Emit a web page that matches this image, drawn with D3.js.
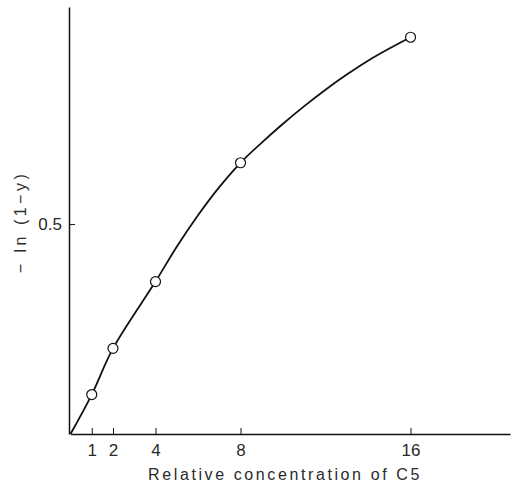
<!DOCTYPE html>
<html>
<head>
<meta charset="utf-8">
<script src="https://cdn.jsdelivr.net/npm/d3@7"></script>
<style>
  html, body { margin: 0; padding: 0; background: #fff; }
  svg { display: block; }
  text { font-family: "Liberation Sans", Arial, sans-serif; fill: #2a2a2a; }
</style>
</head>
<body>
<svg id="chart" width="513" height="488"></svg>
<script>
const concentrations = [1, 2, 4, 8, 16];
const lnValues = [0.094, 0.204, 0.363, 0.646, 0.945];
// Samples of the drawn smooth curve between the points
const curveX = [5, 6, 7, 9, 10, 11, 12, 13, 14, 15];
const curveY = [0.446, 0.521, 0.588, 0.694, 0.739, 0.781, 0.820, 0.856, 0.889, 0.918];
const xTickValues = [1, 2, 4, 8, 16];
const yTickValues = [0.5];
const xTitle = "Relative concentration of C5";
const yTitle = "\u2212 ln (1\u2212y)";

const svg = d3.select("#chart");
const origin = { x: 70.5, y: 434 };

const x = d3.scaleLinear().domain([0, 20.68]).range([origin.x, 510]);
const y = d3.scaleLinear().domain([0, 1.017]).range([origin.y, 7]);

// X axis
const xAxis = d3.axisBottom(x).tickValues(xTickValues).tickSizeInner(-6).tickSizeOuter(0).tickPadding(10);
const gx = svg.append("g").attr("transform", `translate(0,${origin.y})`).call(xAxis);
gx.select(".domain").attr("stroke", "#111").attr("stroke-width", 1.5);
gx.selectAll(".tick line").attr("stroke", "#111").attr("stroke-width", 1);
gx.selectAll(".tick text").attr("font-size", 17).attr("font-family", "Liberation Sans, sans-serif").attr("fill", "#2a2a2a");

// Y axis
const yAxis = d3.axisLeft(y).tickValues(yTickValues).tickFormat(d3.format(".1f")).tickSizeInner(-6).tickSizeOuter(0).tickPadding(7);
const gy = svg.append("g").attr("transform", `translate(${origin.x - 1.5},0)`).call(yAxis);
gy.select(".domain").attr("stroke", "#111").attr("stroke-width", 1.5);
gy.selectAll(".tick line").attr("stroke", "#111").attr("stroke-width", 1);
gy.selectAll(".tick text").attr("font-size", 17).attr("font-family", "Liberation Sans, sans-serif").attr("fill", "#2a2a2a");

// Smooth curve through origin, measured points and curve samples
const linePts = [[0, 0]]
  .concat(concentrations.map((c, i) => [c, lnValues[i]]))
  .concat(curveX.map((c, i) => [c, curveY[i]]))
  .sort((a, b) => a[0] - b[0]);
const path = d3.line().x(d => x(d[0])).y(d => y(d[1])).curve(d3.curveCatmullRom.alpha(0.5));
svg.append("path").datum(linePts)
  .attr("d", path)
  .attr("fill", "none").attr("stroke", "#111").attr("stroke-width", 1.8);

// Points
svg.selectAll("circle.pt").data(concentrations).enter().append("circle")
  .attr("class", "pt")
  .attr("cx", d => x(d))
  .attr("cy", (d, i) => y(lnValues[i]))
  .attr("r", 5)
  .attr("fill", "#fff").attr("stroke", "#111").attr("stroke-width", 1.2);

// Titles
svg.append("text")
  .attr("x", 285).attr("y", 480)
  .attr("text-anchor", "middle")
  .attr("font-size", 16)
  .attr("letter-spacing", 2.6)
  .text(xTitle);

svg.append("text")
  .attr("transform", "translate(26,222) rotate(-90)")
  .attr("text-anchor", "middle")
  .attr("font-size", 16)
  .attr("letter-spacing", 3.5)
  .text(yTitle);
</script>
</body>
</html>
